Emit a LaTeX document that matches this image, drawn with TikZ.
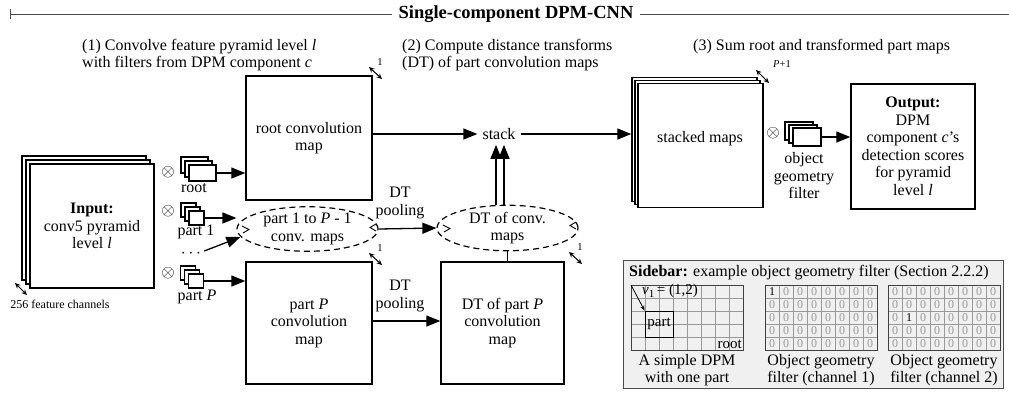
\documentclass[tikz,border=0pt]{standalone}
\usepackage{fontspec}
\setmainfont{Liberation Serif}
\usetikzlibrary{arrows.meta,shapes.geometric,calc}
% one 8x5 object geometry filter: #1 name prefix, #2 left x, #3/#4 column/row of the single 1
\newcommand\geomgrid[4]{%
  \foreach \i in {1,...,7} \draw[gridline] ({#2+\i*14},285) -- ++(0,65);
  \foreach \j in {1,...,4} \draw[gridline] (#2,{285+\j*13}) -- ++(112,0);
  \foreach \i in {0,...,7}{\foreach \j in {0,...,4}{%
    \pgfmathtruncatemacro\isone{(\i==#3)*(\j==#4)}%
    \ifnum\isone=1
      \node[num,text=black] (#1-\i-\j) at ({#2+(\i+0.5)*14},{285+(\j+0.5)*13}) {1};
    \else
      \node[num] (#1-\i-\j) at ({#2+(\i+0.5)*14},{285+(\j+0.5)*13}) {0};
    \fi}}
  \draw[gridframe] (#2,285) rectangle ++(112,65);
}
\begin{document}
\begin{tikzpicture}[x=1pt,y=-1pt,
  txt/.style={font=\fontsize{16}{17.5}\selectfont, align=center, inner sep=0pt},
  otimes/.style={font=\fontsize{19}{19}\selectfont, inner sep=0pt},
  small/.style={font=\fontsize{12}{13}\selectfont, inner sep=0pt},
  tiny/.style={font=\fontsize{10.5}{11}\selectfont, inner sep=0pt},
  mapbox/.style={draw, line width=1.4pt, fill=white, inner sep=0pt},
  filt/.style={draw, line width=1.2pt, fill=white, inner sep=0pt},
  dashell/.style={ellipse, draw, dash pattern=on 6pt off 4pt, line width=1.2pt,
    inner sep=0pt, minimum width=141pt, minimum height=44pt},
  arr/.style={line width=1.3pt, -{Triangle[length=14pt,width=11pt]}},
  dbl/.style={line width=1pt, {Stealth[length=5.5pt,width=5pt]}-{Stealth[length=5.5pt,width=5pt]}},
  chev/.style={line width=0.9pt},
  rule/.style={draw=black!70, line width=1pt},
  gridline/.style={draw=black!40, line width=0.6pt},
  gridframe/.style={draw=black!75, line width=0.9pt},
  num/.style={font=\fontsize{12}{12}\selectfont, text=black!40, inner sep=0pt},
]
\useasboundingbox (0,0) rectangle (1009,392);

% heading rule with title
\coordinate (hl) at (10,14);
\coordinate (hr) at (1009,14);
\draw[rule] (hl) -- (hr);
\draw[rule] ($(hl)+(0,-5)$) -- ($(hl)+(0,5)$);
\node[font=\fontsize{18.5}{20}\selectfont\bfseries, fill=white, inner xsep=7pt, inner ysep=2pt]
  (title) at (516,14) {Single-component DPM-CNN};

% step captions
\node[txt, anchor=west, align=left] (step1) at (82,55)
  {(1) Convolve feature pyramid level \textit{l}\\with filters from DPM component \textit{c}};
\node[txt, anchor=west, align=left] (step2) at (402,55)
  {(2) Compute distance transforms\\(DT) of part convolution maps};
\node[txt, anchor=west] (step3) at (693,47) {(3) Sum root and transformed part maps};

% input feature stack
\node[mapbox, minimum size=124pt] (inback) at (84,218) {};
\node[mapbox, minimum size=124pt] (inmid) at (88,222) {};
\node[mapbox, txt, minimum size=124pt] (input) at (92,226)
  {\textbf{Input:}\\conv5 pyramid\\level \textit{l}};
\coordinate (ch1) at (15,283);
\coordinate (ch2) at (27,295);
\draw[dbl] (ch1) -- (ch2);
\node[small] (chlab) at (60,304) {256 feature channels};

% convolution symbols
\node[otimes] (ot1) at (168,172) {$\otimes$};
\node[otimes] (ot2) at (168,211) {$\otimes$};
\node[otimes] (ot3) at (168,273) {$\otimes$};

% root filter stack
\node[filt, minimum width=27pt, minimum height=16pt] (rf3) at (194.5,165) {};
\node[filt, minimum width=27pt, minimum height=16pt] (rf2) at (198.5,169) {};
\node[filt, minimum width=27pt, minimum height=16pt] (rf) at (202.5,173) {};
\node[txt] (rflab) at (194,188) {root};

% part 1 filter stack
\node[filt, minimum width=15pt, minimum height=14pt] (p1f3) at (188.5,210) {};
\node[filt, minimum width=15pt, minimum height=14pt] (p1f2) at (192.5,214) {};
\node[filt, minimum width=15pt, minimum height=14pt] (p1f) at (196.5,218) {};
\node[txt] (p1lab) at (196,232) {part 1};
\node[txt] (dots) at (191,254) {$\cdots$};

% part P filter stack
\node[filt, minimum width=15pt, minimum height=14pt] (pPf3) at (188,273) {};
\node[filt, minimum width=15pt, minimum height=14pt] (pPf2) at (192,277) {};
\node[filt, minimum width=15pt, minimum height=14pt] (pPf) at (196,281) {};
\node[txt] (pPlab) at (197,297) {part \textit{P}};

% convolution maps
\node[mapbox, txt, minimum width=126pt, minimum height=124pt] (rootmap) at (309,138)
  {root convolution\\map};
\node[dashell, txt] (ell1) at (307.5,229) {part 1 to \textit{P} - 1\\conv. maps};
\node[mapbox, txt, minimum width=126pt, minimum height=122pt] (pPmap) at (309,323)
  {part \textit{P}\\convolution\\map};

\draw[arr] (rf.east) -- (rf.east -| rootmap.west);
\draw[arr] (p1f.east) -- (p1f.east -| ell1.west);
\coordinate (dotsend) at ($(ell1.west)+(4,8)$);
\coordinate (dotsstart) at ($(dots.east)+(3,-3)$);
\draw[arr] (dotsstart) -- (dotsend);
\draw[arr] (pPf.east) -- (pPf.east -| pPmap.west);

% thickness markers of single maps
\coordinate (r1a) at (369,67);  \coordinate (r1b) at (382,79);
\draw[dbl] (r1a) -- (r1b);
\node[tiny] (r1lab) at (380,62) {1};
\coordinate (e1a) at (369,253); \coordinate (e1b) at (382,265);
\draw[dbl] (e1a) -- (e1b);
\node[tiny] (e1lab) at (380,248) {1};

% distance transforms
\node[dashell, txt] (ell2) at (507.5,228) {DT of conv.\\maps};
\node[mapbox, txt, minimum width=123pt, minimum height=122pt] (dtmap) at (502.5,323)
  {DT of part \textit{P}\\convolution\\map};
\draw[arr] (ell1.east) -- (ell2.west);
\node[txt] (dtp1) at (400,203) {DT\\pooling};
\draw[arr] (pPmap.east |- 0,321) -- (dtmap.west |- 0,321);
\node[txt] (dtp2) at (400,296) {DT\\pooling};
\draw[line width=1.3pt] (dtmap.north -| ell2.south) -- (ell2.south);
\coordinate (e2a) at (569,252); \coordinate (e2b) at (582,264);
\draw[dbl] (e2a) -- (e2b);
\node[tiny] (e2lab) at (580,247) {1};

% small chevrons inside the dashed ellipses
\draw[chev] (242,226) -- (249,229.5) -- (243,233);
\draw[chev] (376,224) -- (370,227.5) -- (376,231);
\draw[chev] (443,225) -- (450,228.5) -- (444,232);
\draw[chev] (576,222) -- (570,225.5) -- (576,229);

% stacking
\node[txt, inner sep=5pt] (stack) at (499,134) {stack};
\draw[arr] (rootmap.east |- stack.west) -- (stack.west);
\coordinate (u1) at ($(stack.south)+(-3,0)$);
\coordinate (u2) at ($(stack.south)+(5,0)$);
\draw[arr] (ell2.north -| u1) -- (u1);
\draw[arr] (ell2.north -| u2) -- (u2);

\node[mapbox, minimum width=125pt, minimum height=124pt] (stk3) at (694.5,139.5) {};
\node[mapbox, minimum width=125pt, minimum height=124pt] (stk2) at (697.5,142.5) {};
\node[mapbox, minimum width=125pt, minimum height=124pt] (stk) at (700.5,145.5) {};
\node[txt] (stklab) at (700,139) {stacked maps};
\draw[arr] (stack.east) -- (stack.east -| stk3.west);
\coordinate (s1a) at (756,70); \coordinate (s1b) at (769,83);
\draw[dbl] (s1a) -- (s1b);
\node[tiny] (s1lab) at (782,64) {\textit{P}+1};

% object geometry filter and output
\node[otimes] (ot4) at (773,133) {$\otimes$};
\node[filt, minimum width=28pt, minimum height=18pt] (og3) at (799,131) {};
\node[filt, minimum width=28pt, minimum height=18pt] (og2) at (803,134) {};
\node[filt, minimum width=28pt, minimum height=18pt] (og) at (807,137) {};
\node[txt] (oglab) at (804,176) {object\\geometry\\filter};
\node[mapbox, txt, minimum width=124pt, minimum height=125pt] (out) at (913,146.5)
  {\textbf{Output:}\\DPM\\component \textit{c}’s\\detection scores\\for pyramid\\level \textit{l}};
\draw[arr] (og.east) -- (og.east -| out.west);

% sidebar
\node[draw=black!70, fill=black!6, line width=1pt, minimum width=380pt, minimum height=128pt,
  inner sep=0pt] (side) at (813,324) {};
\node[txt, anchor=west] (sidetitle) at (629,273)
  {\textbf{Sidebar:} example object geometry filter (Section 2.2.2)};

% simple DPM: root grid with one part
\foreach \i in {1,...,7} \draw[gridline] ({631+\i*14},285) -- ++(0,65);
\foreach \j in {1,...,4} \draw[gridline] (631,{285+\j*13}) -- ++(112,0);
\draw[gridframe] (631,285) rectangle ++(112,65);
\node[draw, line width=0.9pt, minimum width=28pt, minimum height=26pt, inner sep=0pt,
  font=\fontsize{15}{15}\selectfont] (part) at (659,324) {part};
\node[font=\fontsize{15}{15}\selectfont, inner sep=1pt, anchor=south east] (rootlab) at (743,350) {root};
\node[font=\fontsize{15}{15}\selectfont, inner sep=0pt] (vlab) at (670,291)
  {\textit{v}\raisebox{-3pt}{\fontsize{11}{11}\selectfont 1}\,= (1,2)};
\coordinate (gorig) at (631,285);
\draw[line width=0.8pt, -{Stealth[length=5pt,width=4pt]}] (gorig) -- (part.north west);
\node[txt] (cap1) at (687,370) {A simple DPM\\with one part};

\geomgrid{ga}{765}{0}{0}
\node[txt] (cap2) at (821,370) {Object geometry\\filter (channel 1)};
\geomgrid{gb}{888}{1}{2}
\node[txt] (cap3) at (944,370) {Object geometry\\filter (channel 2)};
\end{tikzpicture}
\end{document}
